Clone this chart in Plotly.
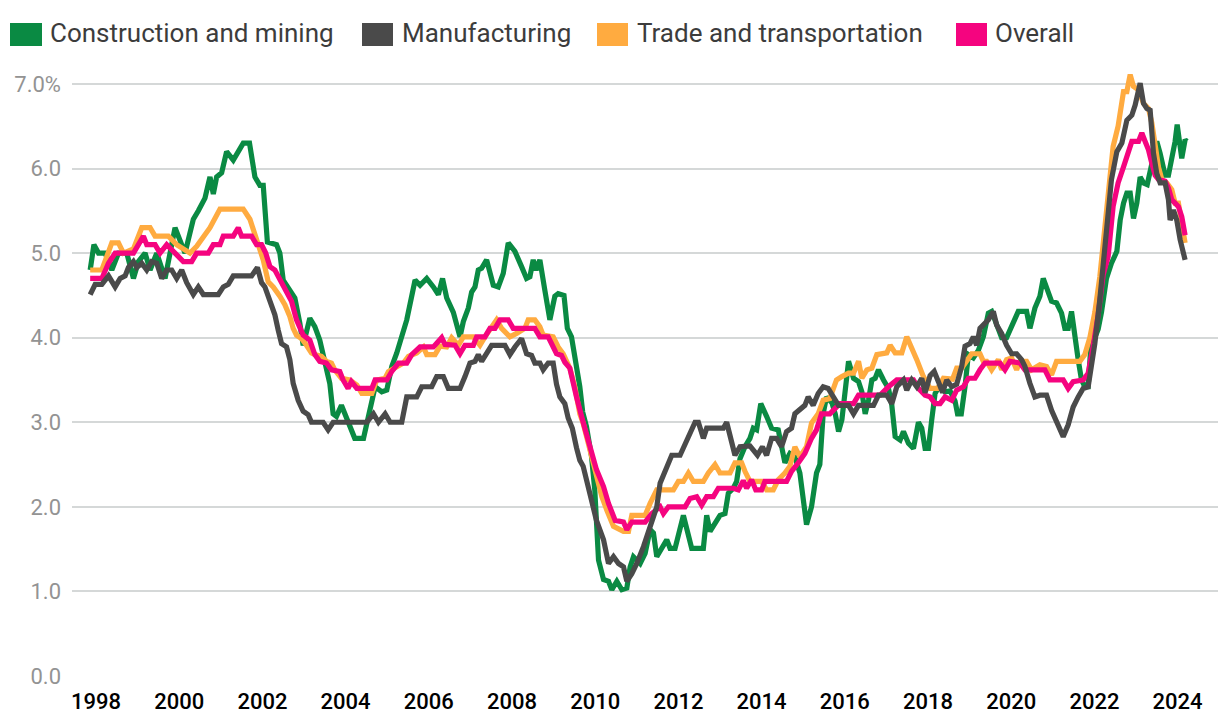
import plotly.graph_objects as go

# ---- data (decimal year, wage growth %) ----
construction_mining = [
    (1997.86, 4.8), (1997.95, 5.1), (1998.06, 5.0), (1998.22, 5.0), (1998.38, 4.8), (1998.54, 5.0),
    (1998.74, 5.0), (1998.90, 4.7), (1999.02, 4.9), (1999.18, 5.0), (1999.30, 4.8), (1999.46, 5.0),
    (1999.66, 4.7), (1999.90, 5.3), (2000.14, 5.0), (2000.34, 5.4), (2000.46, 5.5), (2000.62, 5.65),
    (2000.74, 5.9), (2000.82, 5.7), (2000.90, 5.9), (2001.02, 5.95), (2001.14, 6.2), (2001.30, 6.1),
    (2001.54, 6.3), (2001.69, 6.3), (2001.82, 5.9), (2001.94, 5.8), (2002.02, 5.8), (2002.12, 5.13),
    (2002.34, 5.1), (2002.42, 5.0), (2002.50, 4.68), (2002.66, 4.55), (2002.78, 4.47), (2002.90, 4.17),
    (2002.98, 3.91), (2003.14, 4.23), (2003.26, 4.13), (2003.38, 3.97), (2003.50, 3.74), (2003.62, 3.46),
    (2003.70, 3.1), (2003.78, 3.07), (2003.90, 3.2), (2004.06, 2.99), (2004.22, 2.81), (2004.43, 2.81),
    (2004.59, 3.14), (2004.71, 3.42), (2004.87, 3.36), (2004.99, 3.38), (2005.11, 3.66), (2005.23, 3.82),
    (2005.47, 4.21), (2005.67, 4.68), (2005.79, 4.62), (2005.95, 4.7), (2006.11, 4.6), (2006.23, 4.51),
    (2006.33, 4.7), (2006.43, 4.47), (2006.59, 4.3), (2006.75, 4.01), (2006.83, 4.19), (2006.95, 4.35),
    (2007.03, 4.54), (2007.11, 4.6), (2007.19, 4.8), (2007.27, 4.82), (2007.39, 4.92), (2007.55, 4.62),
    (2007.67, 4.6), (2007.79, 4.76), (2007.91, 5.12), (2008.07, 5.02), (2008.23, 4.84), (2008.35, 4.7),
    (2008.43, 4.72), (2008.51, 4.92), (2008.58, 4.8), (2008.67, 4.92), (2008.79, 4.56), (2008.91, 4.21),
    (2009.03, 4.49), (2009.11, 4.52), (2009.25, 4.5), (2009.33, 4.11), (2009.43, 4.01), (2009.55, 3.7),
    (2009.63, 3.42), (2009.70, 3.12), (2009.79, 2.95), (2009.91, 2.6), (2009.99, 2.2), (2010.08, 1.37),
    (2010.20, 1.14), (2010.32, 1.12), (2010.40, 1.02), (2010.52, 1.12), (2010.64, 1.02), (2010.76, 1.04),
    (2010.84, 1.29), (2010.92, 1.41), (2011.08, 1.33), (2011.20, 1.45), (2011.32, 1.73), (2011.40, 1.69),
    (2011.48, 1.41), (2011.60, 1.51), (2011.72, 1.61), (2011.80, 1.51), (2011.92, 1.51), (2012.12, 1.9),
    (2012.20, 1.73), (2012.32, 1.51), (2012.60, 1.51), (2012.68, 1.9), (2012.76, 1.71), (2012.88, 1.81),
    (2013.00, 1.9), (2013.12, 1.92), (2013.20, 2.16), (2013.32, 2.22), (2013.40, 2.3), (2013.48, 2.57),
    (2013.60, 2.71), (2013.72, 2.81), (2013.80, 2.93), (2013.88, 2.91), (2013.98, 3.22), (2014.12, 3.07),
    (2014.24, 2.93), (2014.40, 2.91), (2014.48, 2.69), (2014.56, 2.52), (2014.68, 2.63), (2014.80, 2.59),
    (2014.92, 2.4), (2015.00, 2.08), (2015.08, 1.79), (2015.20, 2.0), (2015.32, 2.4), (2015.40, 2.5),
    (2015.48, 3.1), (2015.56, 3.3), (2015.69, 3.23), (2015.77, 3.1), (2015.85, 2.89), (2015.93, 3.03),
    (2016.01, 3.42), (2016.09, 3.72), (2016.21, 3.52), (2016.33, 3.48), (2016.41, 3.36), (2016.49, 3.1),
    (2016.57, 3.26), (2016.65, 3.5), (2016.73, 3.52), (2016.81, 3.62), (2016.93, 3.5), (2017.05, 3.4),
    (2017.13, 3.2), (2017.21, 2.83), (2017.33, 2.79), (2017.41, 2.89), (2017.53, 2.75), (2017.65, 2.69),
    (2017.77, 3.0), (2017.85, 2.93), (2017.93, 2.69), (2018.01, 2.69), (2018.09, 3.03), (2018.17, 3.34),
    (2018.29, 3.44), (2018.41, 3.36), (2018.53, 3.37), (2018.65, 3.25), (2018.71, 3.1), (2018.80, 3.1),
    (2018.89, 3.42), (2018.97, 3.8), (2019.09, 3.76), (2019.21, 3.85), (2019.33, 4.01), (2019.45, 4.29),
    (2019.53, 4.31), (2019.65, 4.17), (2019.77, 4.0), (2019.89, 4.0), (2020.01, 4.13), (2020.17, 4.31),
    (2020.37, 4.31), (2020.45, 4.11), (2020.57, 4.35), (2020.69, 4.49), (2020.77, 4.7), (2020.85, 4.6),
    (2020.97, 4.43), (2021.09, 4.41), (2021.21, 4.29), (2021.29, 4.11), (2021.37, 4.11), (2021.45, 4.31),
    (2021.53, 3.97), (2021.61, 3.74), (2021.69, 3.5), (2021.77, 3.42), (2021.85, 3.42), (2021.93, 4.01),
    (2022.01, 4.0), (2022.09, 4.1), (2022.17, 4.3), (2022.29, 4.7), (2022.41, 4.88), (2022.54, 5.02),
    (2022.62, 5.39), (2022.70, 5.59), (2022.78, 5.71), (2022.86, 5.71), (2022.94, 5.41), (2023.02, 5.59),
    (2023.10, 5.9), (2023.18, 5.83), (2023.27, 5.81), (2023.38, 6.08), (2023.50, 6.32), (2023.58, 6.18),
    (2023.70, 5.92), (2023.78, 5.92), (2023.86, 6.1), (2023.94, 6.32), (2023.99, 6.52), (2024.10, 6.12),
    (2024.18, 6.34), (2024.22, 6.32),
]

manufacturing = [
    (1997.86, 4.51), (1997.98, 4.63), (1998.14, 4.63), (1998.30, 4.73), (1998.46, 4.6), (1998.58, 4.7),
    (1998.70, 4.73), (1998.78, 4.83), (1998.90, 4.9), (1998.98, 4.83), (1999.10, 4.88), (1999.22, 4.8),
    (1999.34, 4.9), (1999.46, 4.88), (1999.58, 4.7), (1999.70, 4.8), (1999.82, 4.8), (1999.94, 4.7),
    (2000.06, 4.8), (2000.18, 4.65), (2000.34, 4.51), (2000.46, 4.6), (2000.58, 4.51), (2000.94, 4.51),
    (2001.06, 4.6), (2001.18, 4.63), (2001.30, 4.73), (2001.74, 4.73), (2001.88, 4.83), (2001.98, 4.65),
    (2002.06, 4.6), (2002.18, 4.45), (2002.30, 4.27), (2002.38, 4.09), (2002.46, 3.93), (2002.58, 3.89),
    (2002.66, 3.74), (2002.74, 3.46), (2002.86, 3.26), (2002.98, 3.13), (2003.10, 3.09), (2003.18, 3.0),
    (2003.46, 3.0), (2003.58, 2.91), (2003.70, 3.0), (2004.51, 3.0), (2004.67, 3.1), (2004.79, 3.0),
    (2004.95, 3.1), (2005.07, 3.0), (2005.35, 3.0), (2005.47, 3.3), (2005.71, 3.3), (2005.83, 3.42),
    (2006.07, 3.42), (2006.19, 3.54), (2006.35, 3.54), (2006.47, 3.4), (2006.75, 3.4), (2006.87, 3.54),
    (2006.99, 3.7), (2007.11, 3.72), (2007.19, 3.8), (2007.27, 3.72), (2007.39, 3.81), (2007.51, 3.91),
    (2007.83, 3.91), (2007.95, 3.8), (2008.07, 3.89), (2008.23, 3.99), (2008.35, 3.81), (2008.47, 3.79),
    (2008.55, 3.7), (2008.67, 3.7), (2008.75, 3.62), (2008.87, 3.7), (2008.99, 3.7), (2009.07, 3.45),
    (2009.15, 3.3), (2009.27, 3.22), (2009.35, 3.05), (2009.45, 2.93), (2009.55, 2.7), (2009.63, 2.55),
    (2009.71, 2.48), (2009.79, 2.32), (2009.91, 2.08), (2010.03, 1.84), (2010.20, 1.61), (2010.32, 1.33),
    (2010.44, 1.41), (2010.56, 1.33), (2010.68, 1.29), (2010.76, 1.12), (2010.88, 1.21), (2011.00, 1.33),
    (2011.16, 1.53), (2011.32, 1.77), (2011.48, 2.0), (2011.56, 2.28), (2011.72, 2.48), (2011.84, 2.61),
    (2012.04, 2.61), (2012.16, 2.73), (2012.28, 2.87), (2012.40, 3.0), (2012.48, 3.0), (2012.60, 2.81),
    (2012.68, 2.93), (2013.08, 2.93), (2013.16, 3.0), (2013.28, 2.79), (2013.36, 2.61), (2013.48, 2.71),
    (2013.72, 2.72), (2013.90, 2.61), (2014.02, 2.71), (2014.12, 2.61), (2014.24, 2.81), (2014.36, 2.81),
    (2014.48, 2.71), (2014.60, 2.89), (2014.72, 2.93), (2014.80, 3.1), (2014.92, 3.16), (2015.04, 3.2),
    (2015.12, 3.3), (2015.24, 3.2), (2015.36, 3.34), (2015.48, 3.42), (2015.60, 3.4), (2015.72, 3.3),
    (2015.85, 3.2), (2016.09, 3.2), (2016.21, 3.1), (2016.33, 3.2), (2016.69, 3.2), (2016.81, 3.32),
    (2017.01, 3.32), (2017.13, 3.22), (2017.25, 3.42), (2017.41, 3.5), (2017.49, 3.38), (2017.61, 3.5),
    (2017.73, 3.42), (2017.85, 3.52), (2017.93, 3.35), (2018.05, 3.55), (2018.15, 3.6), (2018.25, 3.48),
    (2018.35, 3.35), (2018.45, 3.5), (2018.57, 3.42), (2018.69, 3.45), (2018.81, 3.66), (2018.89, 3.9),
    (2019.01, 3.93), (2019.09, 4.01), (2019.17, 3.91), (2019.25, 4.11), (2019.37, 4.17), (2019.45, 4.21),
    (2019.57, 4.31), (2019.65, 4.15), (2019.77, 4.05), (2019.89, 3.91), (2020.01, 3.81), (2020.13, 3.81),
    (2020.25, 3.74), (2020.33, 3.66), (2020.45, 3.46), (2020.57, 3.3), (2020.69, 3.32), (2020.85, 3.32),
    (2020.97, 3.14), (2021.09, 3.0), (2021.25, 2.83), (2021.37, 2.97), (2021.49, 3.18), (2021.61, 3.3),
    (2021.73, 3.4), (2021.85, 3.42), (2021.93, 3.66), (2022.01, 3.93), (2022.13, 4.45), (2022.25, 5.05),
    (2022.33, 5.45), (2022.41, 5.87), (2022.54, 6.2), (2022.66, 6.3), (2022.78, 6.57), (2022.90, 6.63),
    (2022.98, 6.75), (2023.10, 7.01), (2023.18, 6.77), (2023.26, 6.71), (2023.34, 6.69), (2023.42, 6.18),
    (2023.50, 5.94), (2023.58, 5.83), (2023.70, 5.83), (2023.78, 5.63), (2023.82, 5.39), (2023.90, 5.51),
    (2023.98, 5.39), (2024.06, 5.16), (2024.18, 4.92),
]

trade_transportation = [
    (1997.86, 4.8), (1998.14, 4.8), (1998.38, 5.12), (1998.54, 5.12), (1998.66, 5.0), (1998.90, 5.05),
    (1999.10, 5.3), (1999.30, 5.3), (1999.42, 5.2), (1999.74, 5.2), (1999.94, 5.1), (2000.26, 5.0),
    (2000.42, 5.08), (2000.74, 5.3), (2000.98, 5.52), (2001.54, 5.52), (2001.70, 5.4), (2001.86, 5.16),
    (2002.02, 4.92), (2002.14, 4.66), (2002.26, 4.6), (2002.42, 4.49), (2002.54, 4.39), (2002.66, 4.25),
    (2002.74, 4.11), (2002.82, 4.03), (2002.94, 3.99), (2003.06, 3.91), (2003.18, 3.82), (2003.26, 3.8),
    (2003.42, 3.78), (2003.54, 3.72), (2003.66, 3.7), (2003.74, 3.62), (2003.90, 3.52), (2004.10, 3.5),
    (2004.27, 3.44), (2004.39, 3.34), (2004.63, 3.34), (2004.75, 3.5), (2004.95, 3.52), (2005.03, 3.6),
    (2005.23, 3.66), (2005.39, 3.7), (2005.51, 3.78), (2005.71, 3.82), (2005.87, 3.89), (2005.95, 3.8),
    (2006.15, 3.8), (2006.27, 3.9), (2006.43, 3.89), (2006.55, 4.0), (2006.71, 3.91), (2006.83, 4.01),
    (2007.07, 4.01), (2007.23, 3.91), (2007.35, 4.01), (2007.51, 4.13), (2007.63, 4.21), (2007.75, 4.11),
    (2007.95, 4.01), (2008.11, 4.05), (2008.31, 4.11), (2008.39, 4.21), (2008.55, 4.21), (2008.67, 4.13),
    (2008.75, 4.03), (2008.99, 4.01), (2009.11, 3.89), (2009.23, 3.81), (2009.39, 3.64), (2009.51, 3.42),
    (2009.63, 3.1), (2009.71, 2.99), (2009.87, 2.67), (2010.03, 2.36), (2010.16, 2.12), (2010.28, 1.96),
    (2010.44, 1.77), (2010.68, 1.71), (2010.80, 1.71), (2010.88, 1.9), (2011.20, 1.9), (2011.32, 2.04),
    (2011.40, 2.12), (2011.48, 2.2), (2011.88, 2.2), (2012.00, 2.3), (2012.12, 2.3), (2012.24, 2.4),
    (2012.36, 2.3), (2012.60, 2.3), (2012.72, 2.4), (2012.88, 2.5), (2013.00, 2.4), (2013.24, 2.4),
    (2013.36, 2.52), (2013.52, 2.52), (2013.60, 2.42), (2013.72, 2.3), (2014.00, 2.3), (2014.12, 2.2),
    (2014.28, 2.2), (2014.40, 2.32), (2014.56, 2.4), (2014.68, 2.48), (2014.80, 2.71), (2014.92, 2.59),
    (2015.08, 2.71), (2015.20, 2.99), (2015.36, 3.1), (2015.48, 3.26), (2015.64, 3.28), (2015.80, 3.5),
    (2015.93, 3.54), (2016.09, 3.58), (2016.21, 3.58), (2016.33, 3.72), (2016.41, 3.52), (2016.53, 3.62),
    (2016.65, 3.64), (2016.77, 3.8), (2017.01, 3.82), (2017.09, 3.91), (2017.21, 3.82), (2017.37, 3.82),
    (2017.49, 4.01), (2017.61, 3.89), (2017.73, 3.74), (2017.89, 3.54), (2018.05, 3.4), (2018.23, 3.4),
    (2018.37, 3.52), (2018.59, 3.51), (2018.69, 3.64), (2018.81, 3.64), (2018.93, 3.74), (2019.05, 3.81),
    (2019.25, 3.81), (2019.33, 3.72), (2019.41, 3.72), (2019.53, 3.62), (2019.69, 3.74), (2019.77, 3.62),
    (2019.89, 3.74), (2020.01, 3.76), (2020.13, 3.62), (2020.21, 3.72), (2020.37, 3.72), (2020.49, 3.62),
    (2020.69, 3.68), (2020.85, 3.66), (2020.97, 3.56), (2021.09, 3.72), (2021.65, 3.72), (2021.77, 3.8),
    (2021.89, 4.0), (2022.01, 4.3), (2022.13, 4.72), (2022.25, 5.25), (2022.37, 5.9), (2022.45, 6.26),
    (2022.57, 6.5), (2022.70, 6.91), (2022.78, 6.91), (2022.86, 7.11), (2022.94, 6.97), (2023.06, 6.93),
    (2023.18, 6.77), (2023.30, 6.71), (2023.38, 6.54), (2023.46, 6.22), (2023.54, 6.02), (2023.62, 5.87),
    (2023.74, 5.83), (2023.86, 5.75), (2023.94, 5.59), (2024.02, 5.59), (2024.10, 5.39), (2024.18, 5.12),
]

overall = [
    (1997.86, 4.7), (1998.14, 4.7), (1998.30, 4.88), (1998.46, 5.0), (1998.90, 5.0), (1999.02, 5.1),
    (1999.14, 5.2), (1999.22, 5.1), (1999.42, 5.1), (1999.54, 5.0), (1999.70, 5.1), (1999.90, 5.0),
    (2000.10, 4.9), (2000.30, 4.9), (2000.42, 5.0), (2000.70, 5.0), (2000.82, 5.1), (2000.98, 5.1),
    (2001.06, 5.2), (2001.30, 5.2), (2001.42, 5.3), (2001.50, 5.2), (2001.74, 5.2), (2001.86, 5.1),
    (2001.98, 5.1), (2002.08, 5.0), (2002.18, 4.84), (2002.30, 4.8), (2002.42, 4.68), (2002.58, 4.55),
    (2002.70, 4.43), (2002.82, 4.21), (2002.98, 4.03), (2003.14, 3.97), (2003.26, 3.8), (2003.38, 3.72),
    (2003.54, 3.7), (2003.66, 3.62), (2003.86, 3.6), (2003.94, 3.5), (2004.06, 3.4), (2004.14, 3.48),
    (2004.27, 3.4), (2004.63, 3.4), (2004.71, 3.5), (2004.99, 3.5), (2005.11, 3.6), (2005.27, 3.7),
    (2005.47, 3.7), (2005.59, 3.8), (2005.79, 3.89), (2006.11, 3.89), (2006.23, 3.97), (2006.31, 4.0),
    (2006.39, 3.92), (2006.63, 3.91), (2006.75, 3.81), (2006.87, 3.91), (2007.07, 3.91), (2007.15, 4.01),
    (2007.35, 4.01), (2007.47, 4.11), (2007.59, 4.11), (2007.71, 4.21), (2007.91, 4.21), (2008.03, 4.11),
    (2008.55, 4.11), (2008.67, 4.01), (2008.87, 4.01), (2008.99, 3.89), (2009.07, 3.81), (2009.19, 3.79),
    (2009.27, 3.71), (2009.39, 3.64), (2009.47, 3.46), (2009.55, 3.3), (2009.71, 3.0), (2009.87, 2.71),
    (2010.03, 2.44), (2010.20, 2.24), (2010.32, 2.04), (2010.48, 1.84), (2010.68, 1.82), (2010.76, 1.73),
    (2010.88, 1.82), (2011.20, 1.82), (2011.36, 1.92), (2011.56, 2.0), (2011.64, 1.92), (2011.76, 2.0),
    (2012.16, 2.0), (2012.28, 2.1), (2012.44, 2.12), (2012.56, 2.02), (2012.68, 2.12), (2012.84, 2.12),
    (2012.96, 2.22), (2013.32, 2.22), (2013.44, 2.2), (2013.56, 2.31), (2013.64, 2.22), (2013.76, 2.32),
    (2013.86, 2.2), (2014.00, 2.2), (2014.08, 2.3), (2014.60, 2.3), (2014.72, 2.42), (2014.88, 2.52),
    (2015.04, 2.63), (2015.20, 2.81), (2015.32, 2.91), (2015.44, 3.1), (2015.64, 3.1), (2015.88, 3.22),
    (2016.21, 3.22), (2016.33, 3.32), (2016.85, 3.32), (2017.05, 3.42), (2017.25, 3.5), (2017.65, 3.5),
    (2017.77, 3.4), (2017.93, 3.32), (2018.05, 3.3), (2018.17, 3.22), (2018.29, 3.22), (2018.41, 3.3),
    (2018.57, 3.26), (2018.69, 3.38), (2018.85, 3.42), (2018.97, 3.52), (2019.13, 3.52), (2019.25, 3.62),
    (2019.37, 3.7), (2019.73, 3.7), (2019.85, 3.62), (2019.97, 3.72), (2020.21, 3.7), (2020.33, 3.62),
    (2020.81, 3.62), (2020.93, 3.5), (2021.25, 3.5), (2021.37, 3.4), (2021.49, 3.48), (2021.73, 3.5),
    (2021.85, 3.58), (2021.97, 3.9), (2022.09, 4.27), (2022.21, 4.74), (2022.33, 4.96), (2022.45, 5.55),
    (2022.57, 5.83), (2022.70, 6.02), (2022.82, 6.2), (2022.90, 6.32), (2023.06, 6.32), (2023.14, 6.42),
    (2023.22, 6.32), (2023.30, 6.22), (2023.38, 6.06), (2023.46, 5.92), (2023.54, 5.87), (2023.70, 5.85),
    (2023.78, 5.77), (2023.86, 5.63), (2023.94, 5.59), (2024.02, 5.55), (2024.10, 5.43), (2024.18, 5.21),
]

series_names = ["Construction and mining", "Manufacturing", "Trade and transportation", "Overall"]
series_data = [construction_mining, manufacturing, trade_transportation, overall]
series_colors = ["#0a8a43", "#4a4a4a", "#ffab40", "#f5047f"]
draw_order = [0, 2, 3, 1]  # manufacturing drawn on top

x_tick_vals = list(range(1998, 2025, 2))
x_tick_text = [str(v) for v in x_tick_vals]
y_tick_vals = [0, 1, 2, 3, 4, 5, 6, 7]
y_tick_text = ["0.0", "1.0", "2.0", "3.0", "4.0", "5.0", "6.0", "7.0%"]

# ---- figure ----
W, H = 1220, 726
ML, MR, MT, MB = 72, 2, 67, 50
FONT = "Roboto, 'Open Sans', sans-serif"

fig = go.Figure()
for i in draw_order:
    xs = [p[0] for p in series_data[i]]
    ys = [p[1] for p in series_data[i]]
    fig.add_trace(go.Scatter(
        x=xs, y=ys, mode="lines", name=series_names[i],
        line=dict(color=series_colors[i], width=5.2, shape="linear"),
        showlegend=False, hoverinfo="skip",
    ))

# manual square-swatch legend (pixel layout converted to paper coords)
pw, ph = W - ML - MR, H - MT - MB
def px_x(px):
    return (px - ML) / pw
def px_y(py):
    return (H - MB - py) / ph

legend_items = [(10, 42, 48), (362, 393, 400), (597, 628, 635), (956, 987, 993)]
shapes = []
annotations = []
for (x0, x1, tx), name, col in zip(legend_items, series_names, series_colors):
    shapes.append(dict(type="rect", xref="paper", yref="paper",
                       x0=px_x(x0), x1=px_x(x1), y0=px_y(46), y1=px_y(23),
                       fillcolor=col, line=dict(width=0), layer="above"))
    annotations.append(dict(xref="paper", yref="paper", x=px_x(tx), y=px_y(33),
                            xanchor="left", yanchor="middle", text=name, showarrow=False,
                            font=dict(family=FONT, size=26, color="#3c3c3c")))

fig.update_layout(
    width=W, height=H,
    margin=dict(l=ML, r=MR, t=MT, b=MB, pad=0),
    paper_bgcolor="white", plot_bgcolor="white",
    font=dict(family=FONT),
    shapes=shapes, annotations=annotations,
    showlegend=False,
)
x_min = 1998 - 24 / 41.6
x_max = x_min + pw / 41.6
fig.update_xaxes(
    range=[x_min, x_max], tickmode="array", tickvals=x_tick_vals, ticktext=x_tick_text,
    showgrid=False, zeroline=False, showline=False, ticks="",
    tickfont=dict(family=FONT, size=22, color="#000000", weight=500), ticklabelstandoff=10,
)
fig.update_yaxes(
    range=[0, 7.2], tickmode="array", tickvals=y_tick_vals, ticktext=y_tick_text,
    showgrid=True, gridcolor="#d5d8d8", gridwidth=2, zeroline=False, showline=False, ticks="",
    tickfont=dict(family=FONT, size=22, color="#939393"), ticklabelstandoff=10,
)

fig.write_html("out.html", config={"displayModeBar": False})

# remove the browser's default page margin so the figure sits at (0, 0)
with open("out.html", "r", encoding="utf-8") as f:
    html = f.read()
html = html.replace("<body>", '<body style="margin:0;padding:0;overflow:hidden">', 1)
with open("out.html", "w", encoding="utf-8") as f:
    f.write(html)
